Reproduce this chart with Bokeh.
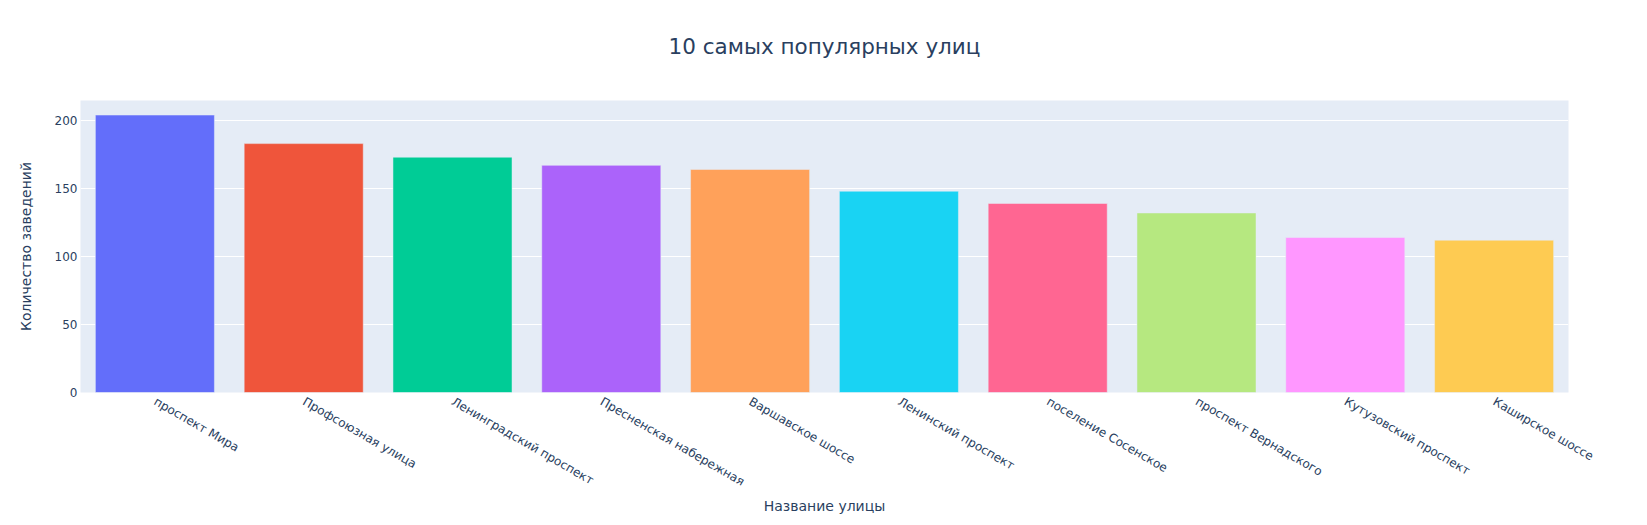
import math
from bokeh.plotting import figure
from bokeh.models import ColumnDataSource, FixedTicker, CategoricalAxis
from bokeh.embed import file_html
from bokeh.resources import INLINE

streets = ["проспект Мира", "Профсоюзная улица", "Ленинградский проспект",
           "Пресненская набережная", "Варшавское шоссе", "Ленинский проспект",
           "поселение Сосенское", "проспект Вернадского", "Кутузовский проспект",
           "Каширское шоссе"]
counts = [204, 183, 173, 167, 164, 148, 139, 132, 114, 112]
colors = ["#636EFA", "#EF553B", "#00CC96", "#AB63FA", "#FFA15A",
          "#19D3F3", "#FF6692", "#B6E880", "#FF97FF", "#FECB52"]
y_ticks = [0, 50, 100, 150, 200]
title_text = "10 самых популярных улиц"

FONT = "DejaVu Sans"
TXT = "#2a3f5f"

src = ColumnDataSource(dict(street=streets, count=counts, color=colors))

p = figure(x_range=streets, y_range=(0, 214.7), width=1647, height=525,
           output_backend="svg", toolbar_location=None,
           min_border_left=80, min_border_right=79, min_border_top=100,
           min_border_bottom=133)

p.vbar(x="street", top="count", width=0.8, source=src, fill_color="color",
       line_color="#E5ECF6", line_width=0.5)

p.background_fill_color = "#E5ECF6"
p.border_fill_color = "white"
p.outline_line_color = None

p.xgrid.grid_line_color = None
p.ygrid.grid_line_color = "white"
p.ygrid.grid_line_width = 1

xax = p.below[0]
yax = p.left[0]
yax.ticker = FixedTicker(ticks=y_ticks)
for ax in (xax, yax):
    ax.axis_line_color = None
    ax.major_tick_line_color = None
    ax.minor_tick_line_color = None
    ax.major_label_text_font = FONT
    ax.major_label_text_font_size = "12px"
    ax.major_label_text_color = TXT
    ax.axis_label_text_font = FONT
    ax.axis_label_text_font_size = "14px"
    ax.axis_label_text_font_style = "normal"
    ax.axis_label_text_color = TXT

yax.axis_label = "Количество заведений"
yax.major_label_standoff = -3
yax.axis_label_standoff = 18

xax.axis_label = "Название улицы"
xax.major_label_orientation = -math.pi / 6
xax.major_label_standoff = 2
xax.axis_label_standoff = 0

# Chart title drawn as the label of a bare axis above the plot area
title_axis = CategoricalAxis(axis_label=title_text)
title_axis.axis_line_color = None
title_axis.major_tick_line_color = None
title_axis.minor_tick_line_color = None
title_axis.major_label_text_font_size = "0px"
title_axis.major_label_text_color = None
title_axis.major_label_standoff = 0
title_axis.major_tick_out = 0
title_axis.major_tick_in = 0
title_axis.axis_label_text_font = FONT
title_axis.axis_label_text_font_size = "21.5px"
title_axis.axis_label_text_font_style = "normal"
title_axis.axis_label_text_color = TXT
title_axis.axis_label_standoff = 42
p.add_layout(title_axis, "above")

open("out.html", "w").write(file_html(p, INLINE))
